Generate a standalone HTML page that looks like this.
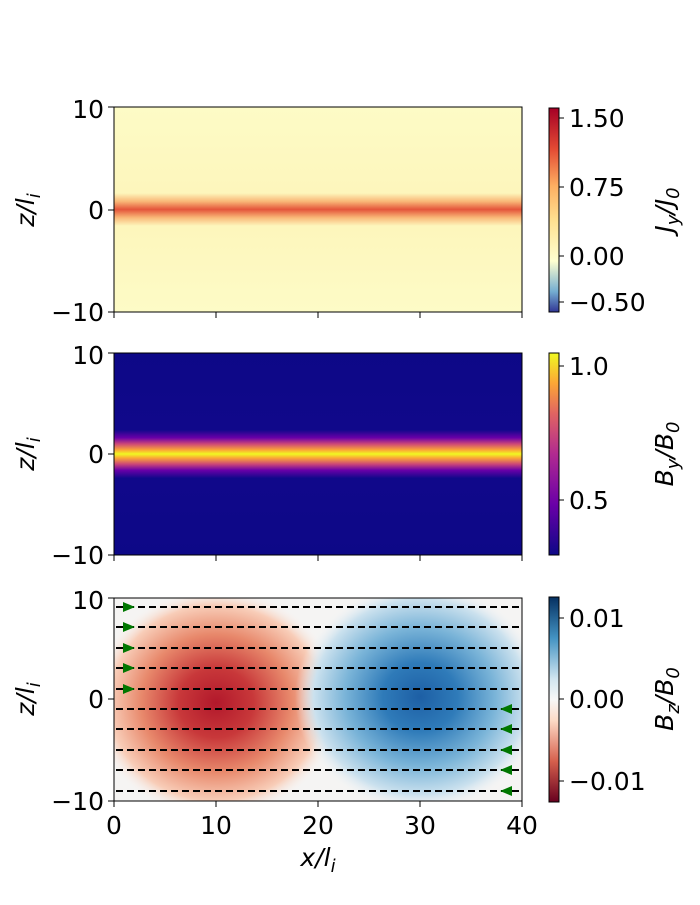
<!DOCTYPE html>
<html><head><style>body{margin:0;background:#fff}</style></head><body>
<svg width="700" height="900" xmlns="http://www.w3.org/2000/svg" font-family="DejaVu Sans, Liberation Sans, sans-serif">
<defs>
<linearGradient id="g1" x1="0" y1="0" x2="0" y2="1">
<stop offset="0" stop-color="#fdfbc6"/><stop offset="0.42" stop-color="#fdf6bc"/><stop offset="0.46" stop-color="#f9b878"/><stop offset="0.5" stop-color="#e4553a"/><stop offset="0.54" stop-color="#f9b878"/><stop offset="0.58" stop-color="#fdf6bc"/><stop offset="1" stop-color="#fdfbc6"/>
</linearGradient>
<linearGradient id="g2" x1="0" y1="0" x2="0" y2="1">
<stop offset="0" stop-color="#0d0887"/><stop offset="0.38" stop-color="#10088a"/><stop offset="0.42" stop-color="#6a00a8"/><stop offset="0.45" stop-color="#cc4778"/><stop offset="0.48" stop-color="#fca636"/><stop offset="0.5" stop-color="#f0f921"/><stop offset="0.52" stop-color="#fca636"/><stop offset="0.55" stop-color="#cc4778"/><stop offset="0.58" stop-color="#6a00a8"/><stop offset="0.62" stop-color="#10088a"/><stop offset="1" stop-color="#0d0887"/>
</linearGradient>
<radialGradient id="rr" cx="0.5" cy="0.5" r="0.5">
<stop offset="0" stop-color="#b2182b"/><stop offset="0.3" stop-color="#c8383a"/><stop offset="0.6" stop-color="#e8896c"/><stop offset="0.85" stop-color="#f8cdb8"/><stop offset="1" stop-color="#f7f4f2" stop-opacity="0"/>
</radialGradient>
<radialGradient id="rb" cx="0.5" cy="0.5" r="0.5">
<stop offset="0" stop-color="#1d5fa5"/><stop offset="0.3" stop-color="#2f7bb9"/><stop offset="0.6" stop-color="#7ab4d8"/><stop offset="0.85" stop-color="#cbe1ee"/><stop offset="1" stop-color="#f4f5f6" stop-opacity="0"/>
</radialGradient>
<linearGradient id="c1" x1="0" y1="1" x2="0" y2="0">
<stop offset="0" stop-color="#313695"/><stop offset="0.1" stop-color="#74add1"/><stop offset="0.25" stop-color="#ffffd0"/><stop offset="0.45" stop-color="#fee090"/><stop offset="0.62" stop-color="#fdae61"/><stop offset="0.8" stop-color="#e34a33"/><stop offset="1" stop-color="#a50026"/>
</linearGradient>
<linearGradient id="c2" x1="0" y1="1" x2="0" y2="0">
<stop offset="0" stop-color="#0d0887"/><stop offset="0.25" stop-color="#6a00a8"/><stop offset="0.5" stop-color="#b12a90"/><stop offset="0.7" stop-color="#e16462"/><stop offset="0.85" stop-color="#fca636"/><stop offset="1" stop-color="#f0f921"/>
</linearGradient>
<linearGradient id="c3" x1="0" y1="1" x2="0" y2="0">
<stop offset="0" stop-color="#67001f"/><stop offset="0.2" stop-color="#d6604d"/><stop offset="0.4" stop-color="#fddbc7"/><stop offset="0.5" stop-color="#f7f7f7"/><stop offset="0.6" stop-color="#d1e5f0"/><stop offset="0.8" stop-color="#4393c3"/><stop offset="1" stop-color="#053061"/>
</linearGradient>
<clipPath id="cp3"><rect x="114" y="598" width="408" height="203"/></clipPath>
</defs>
<g font-size="25" fill="#000">
<rect x="114" y="107" width="408" height="205" fill="url(#g1)" stroke="#000" stroke-width="1"/>
<rect x="114" y="353" width="408" height="202" fill="url(#g2)" stroke="#000" stroke-width="1"/>
<rect x="114" y="598" width="408" height="203" fill="#f5f4f3"/>
<g clip-path="url(#cp3)">
<ellipse cx="216" cy="703" rx="125" ry="115" fill="url(#rr)"/>
<ellipse cx="420" cy="697" rx="125" ry="115" fill="url(#rb)"/>
</g>
<g stroke="#000" stroke-width="2" stroke-dasharray="7,4">
<line x1="116" x2="520" y1="607" y2="607"/><line x1="116" x2="520" y1="627" y2="627"/><line x1="116" x2="520" y1="648" y2="648"/><line x1="116" x2="520" y1="668" y2="668"/><line x1="116" x2="520" y1="689" y2="689"/><line x1="116" x2="520" y1="709" y2="709"/><line x1="116" x2="520" y1="729" y2="729"/><line x1="116" x2="520" y1="750" y2="750"/><line x1="116" x2="520" y1="770" y2="770"/><line x1="116" x2="520" y1="791" y2="791"/>
</g>
<g fill="#007700">
<polygon points="123,602 135,607 123,612"/><polygon points="123,622 135,627 123,632"/><polygon points="123,643 135,648 123,653"/><polygon points="123,663 135,668 123,673"/><polygon points="123,684 135,689 123,694"/>
<polygon points="512,704 500,709 512,714"/><polygon points="512,724 500,729 512,734"/><polygon points="512,745 500,750 512,755"/><polygon points="512,765 500,770 512,775"/><polygon points="512,786 500,791 512,796"/>
</g>
<rect x="114" y="598" width="408" height="203" fill="none" stroke="#000"/>
<g stroke="#000" stroke-width="1">
<line x1="108" x2="114" y1="107" y2="107"/><line x1="108" x2="114" y1="210" y2="210"/><line x1="108" x2="114" y1="312" y2="312"/>
<line x1="108" x2="114" y1="353" y2="353"/><line x1="108" x2="114" y1="454" y2="454"/><line x1="108" x2="114" y1="555" y2="555"/>
<line x1="108" x2="114" y1="598" y2="598"/><line x1="108" x2="114" y1="699" y2="699"/><line x1="108" x2="114" y1="801" y2="801"/>
<line x1="114" x2="114" y1="312" y2="318"/><line x1="216" x2="216" y1="312" y2="318"/><line x1="318" x2="318" y1="312" y2="318"/><line x1="420" x2="420" y1="312" y2="318"/><line x1="522" x2="522" y1="312" y2="318"/>
<line x1="114" x2="114" y1="555" y2="561"/><line x1="216" x2="216" y1="555" y2="561"/><line x1="318" x2="318" y1="555" y2="561"/><line x1="420" x2="420" y1="555" y2="561"/><line x1="522" x2="522" y1="555" y2="561"/>
<line x1="114" x2="114" y1="801" y2="807"/><line x1="216" x2="216" y1="801" y2="807"/><line x1="318" x2="318" y1="801" y2="807"/><line x1="420" x2="420" y1="801" y2="807"/><line x1="522" x2="522" y1="801" y2="807"/>
</g>
<g text-anchor="end">
<text x="104" y="118">10</text><text x="104" y="219">0</text><text x="104" y="321">−10</text>
<text x="104" y="364">10</text><text x="104" y="463">0</text><text x="104" y="564">−10</text>
<text x="104" y="609">10</text><text x="104" y="708">0</text><text x="104" y="810">−10</text>
</g>
<g text-anchor="middle">
<text x="114" y="834">0</text><text x="216" y="834">10</text><text x="318" y="834">20</text><text x="420" y="834">30</text><text x="522" y="834">40</text>
<text x="318" y="866" font-style="italic">x/l<tspan font-size="18" dy="6">i</tspan></text>
</g>
<text transform="translate(34,210) rotate(-90)" text-anchor="middle" font-style="italic">z/l<tspan font-size="18" dy="6">i</tspan></text>
<text transform="translate(34,454) rotate(-90)" text-anchor="middle" font-style="italic">z/l<tspan font-size="18" dy="6">i</tspan></text>
<text transform="translate(34,699) rotate(-90)" text-anchor="middle" font-style="italic">z/l<tspan font-size="18" dy="6">i</tspan></text>
<rect x="549" y="108" width="10" height="204" fill="url(#c1)" stroke="#000"/>
<rect x="549" y="353" width="10" height="202" fill="url(#c2)" stroke="#000"/>
<rect x="549" y="597" width="10" height="205" fill="url(#c3)" stroke="#000"/>
<g stroke="#000">
<line x1="559" x2="564" y1="118" y2="118"/><line x1="559" x2="564" y1="187" y2="187"/><line x1="559" x2="564" y1="256" y2="256"/><line x1="559" x2="564" y1="302" y2="302"/>
<line x1="559" x2="564" y1="366" y2="366"/><line x1="559" x2="564" y1="500" y2="500"/>
<line x1="559" x2="564" y1="618" y2="618"/><line x1="559" x2="564" y1="699" y2="699"/><line x1="559" x2="564" y1="781" y2="781"/>
</g>
<text x="569" y="127">1.50</text><text x="569" y="196">0.75</text><text x="569" y="265">0.00</text><text x="569" y="311">−0.50</text>
<text x="569" y="375">1.0</text><text x="569" y="509">0.5</text>
<text x="569" y="627">0.01</text><text x="569" y="708">0.00</text><text x="569" y="790">−0.01</text>
<text transform="translate(673,210) rotate(-90)" text-anchor="middle" font-style="italic">J<tspan font-size="18" dy="6">y</tspan><tspan dy="-6">/J</tspan><tspan font-size="18" dy="6">0</tspan></text>
<text transform="translate(673,454) rotate(-90)" text-anchor="middle" font-style="italic">B<tspan font-size="18" dy="6">y</tspan><tspan dy="-6">/B</tspan><tspan font-size="18" dy="6">0</tspan></text>
<text transform="translate(673,699) rotate(-90)" text-anchor="middle" font-style="italic">B<tspan font-size="18" dy="6">z</tspan><tspan dy="-6">/B</tspan><tspan font-size="18" dy="6">0</tspan></text>
</g>
</svg>
</body></html>
